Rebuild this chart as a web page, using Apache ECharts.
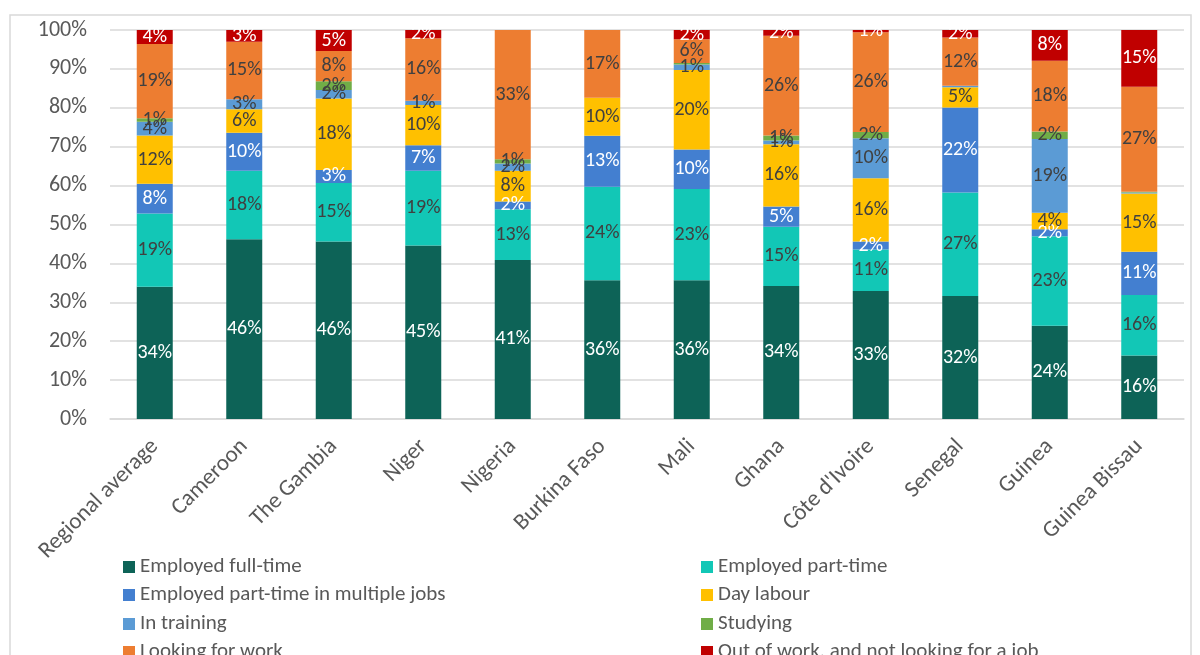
<!DOCTYPE html>
<html>
<head>
<meta charset="utf-8">
<script src="https://cdn.jsdelivr.net/npm/echarts@6/dist/echarts.min.js"></script>
<style>
  html, body { margin: 0; padding: 0; background: #fff; }
  #chart { width: 1200px; height: 655px; }
</style>
</head>
<body>
<div id="chart"></div>
<script>
// Countries / groups along the x axis
const categories = ['Regional average', 'Cameroon', 'The Gambia', 'Niger', 'Nigeria', 'Burkina Faso',
  'Mali', 'Ghana', "Côte d'Ivoire", 'Senegal', 'Guinea', 'Guinea Bissau'];

// Share of respondents (%) per activity status, one value per category
const employedFullTime   = [34.0, 46.2, 45.6, 44.6, 40.9, 35.7, 35.7, 34.2, 32.9, 31.6, 24.0, 16.3];
const employedPartTime   = [18.8, 17.6, 15.1, 19.2, 13.0, 24.0, 23.4, 15.2, 10.7, 26.6, 23.0, 15.6];
const partTimeMultiple   = [7.7, 9.8, 3.3, 6.6, 2.0, 13.1, 10.2, 5.2, 2.0, 21.9, 1.8, 11.1];
const dayLabour          = [12.4, 6.0, 18.4, 10.3, 7.9, 9.8, 20.4, 16.0, 16.3, 5.2, 4.2, 15.0];
const inTraining         = [3.5, 2.6, 2.2, 1.1, 1.9, 0, 1.4, 1.0, 10.3, 0.4, 19.0, 0.2];
const studying           = [0.9, 0, 2.2, 0, 1.1, 0, 0.4, 1.3, 1.6, 0, 1.9, 0.2];
const lookingForWork     = [19.1, 14.8, 7.8, 16.1, 33.2, 17.4, 6.1, 25.6, 25.6, 12.4, 18.2, 27.0];
const outOfWork          = [3.6, 3.0, 5.4, 2.1, 0, 0, 2.4, 1.5, 0.6, 1.9, 7.9, 14.6];

const yTicks = [0, 10, 20, 30, 40, 50, 60, 70, 80, 90, 100];

const seriesDefs = [
  { name: 'Employed full-time', data: employedFullTime, color: '#0d6357', label: '#ffffff' },
  { name: 'Employed part-time', data: employedPartTime, color: '#12c7b6', label: '#404040' },
  { name: 'Employed part-time in multiple jobs', data: partTimeMultiple, color: '#437fd0', label: '#ffffff' },
  { name: 'Day labour', data: dayLabour, color: '#ffc000', label: '#404040' },
  { name: 'In training', data: inTraining, color: '#5b9bd5', label: '#404040' },
  { name: 'Studying', data: studying, color: '#70ad47', label: '#404040' },
  { name: 'Looking for work', data: lookingForWork, color: '#ed7d31', label: '#404040' },
  { name: 'Out of work, and not looking for a job', data: outOfWork, color: '#c00000', label: '#ffffff' }
];

const FONT = 'Carlito, Lato, sans-serif';

const chart = echarts.init(document.getElementById('chart'), null, { renderer: 'canvas' });

// Legend laid out as two columns, four rows; one legend block per entry
const legendCols = [123, 701];
const legendRows = [556, 584, 613, 641];
const legends = seriesDefs.map((s, i) => ({
  orient: 'horizontal',
  left: legendCols[i % 2],
  top: legendRows[Math.floor(i / 2)],
  itemWidth: 12, itemHeight: 12, itemGap: 0,
  icon: 'rect',
  padding: 0,
  textStyle: { fontFamily: FONT, fontSize: 21, color: '#595959', lineHeight: 22, padding: [0, 0, 0, 0] },
  data: [s.name]
}));

chart.setOption({
  animation: false,
  backgroundColor: '#ffffff',
  graphic: [{
    type: 'rect',
    shape: { x: 10, y: 15, width: 1181, height: 700 },
    style: { fill: 'none', stroke: '#d9d9d9', lineWidth: 1.5 },
    silent: true
  }],
  grid: { left: 110, right: 16, top: 30, bottom: 236, containLabel: false },
  legend: legends,
  xAxis: {
    type: 'category',
    data: categories,
    axisLine: { lineStyle: { color: '#d9d9d9', width: 1.5 } },
    axisTick: { show: false },
    axisLabel: {
      rotate: 45, interval: 0, margin: 24,
      fontFamily: FONT, fontSize: 23, color: '#595959'
    }
  },
  yAxis: {
    type: 'value',
    min: yTicks[0], max: yTicks[yTicks.length - 1], interval: 10,
    axisLine: { show: false },
    axisTick: { show: false },
    splitLine: { lineStyle: { color: '#d9d9d9', width: 1.5 } },
    axisLabel: {
      margin: 23, fontFamily: FONT, fontSize: 22, color: '#595959',
      formatter: v => v + '%'
    }
  },
  series: seriesDefs.map(s => ({
    name: s.name,
    type: 'bar',
    stack: 'total',
    barWidth: 36,
    data: s.data,
    itemStyle: { color: s.color },
    label: {
      show: true,
      position: 'inside',
      fontFamily: FONT,
      fontSize: 20,
      color: s.label,
      formatter: p => (p.value >= 0.5 ? Math.round(p.value) + '%' : '')
    }
  }))
});
</script>
</body>
</html>
